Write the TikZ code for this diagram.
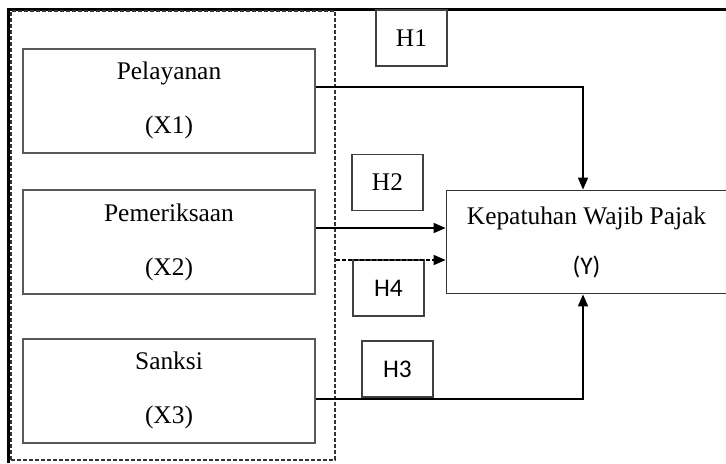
\documentclass[tikz,border=0pt]{standalone}
\usepackage{fontspec}
\setmainfont{Liberation Serif}
\setsansfont{Carlito}
\usepackage{tikz}
\usetikzlibrary{arrows.meta,positioning,calc}
\tikzset{
  varbox/.style={rectangle, draw=black!65, line width=1pt, align=center,
                 minimum width=146pt, minimum height=52pt, inner sep=0pt,
                 font=\fontsize{12.7}{15}\selectfont},
  hipbox/.style={rectangle, draw=black!75, line width=0.9pt, align=center,
                 minimum width=35.5pt, minimum height=28pt, inner sep=0pt,
                 font=\fontsize{12.7}{15}\selectfont},
  arr/.style={-{Triangle[length=6pt,width=5pt]}, line width=0.8pt, draw=black},
  fine dash/.style={dash pattern=on 2pt off 1pt},
}
\begin{document}
\begin{tikzpicture}[x=0.5pt,y=-0.5pt]
  \useasboundingbox (0,0) rectangle (726,463);
  % frame
  \draw[line width=1.5pt] (8,463) -- (8,9) -- (726,9);
  \node[rectangle, draw=black!80, fine dash, line width=0.8pt, minimum width=162pt,
        minimum height=224.5pt, inner sep=0pt] (grp) at (173,235.5) {};
  % variables
  \node[varbox] (pel) at (169,100.5) {Pelayanan\\[12pt](X1)};
  \node[varbox] (pem) at (169,242) {Pemeriksaan\\[12pt](X2)};
  \node[varbox] (san) at (169,390.5) {Sanksi\\[12pt](X3)};
  \node[rectangle, draw=black!80, line width=0.9pt, align=center, inner sep=0pt,
        minimum width=140pt, minimum height=51.5pt,
        font=\fontsize{12.7}{15}\selectfont] (kep) at (586.5,242)
    {Kepatuhan Wajib Pajak\\[10pt]{\sffamily (Y)}};
  % hipotesis
  \node[hipbox] (h1) at (411.5,38) {H1};
  \node[hipbox] (h2) at (387.5,182.5) {H2};
  \node[hipbox, font=\sffamily\fontsize{12.7}{15}\selectfont] (h4) at (388.5,288) {H4};
  \node[hipbox, font=\sffamily\fontsize{12.7}{15}\selectfont] (h3) at (397.5,369) {H3};
  % arrows
  \coordinate (h4in) at ([yshift=-9pt]kep.west);
  \draw[arr] ([yshift=6.75pt]pel.east) -| ([xshift=-1.75pt]kep.north);
  \draw[arr] ([yshift=7pt]pem.east) -- ([yshift=7pt]kep.west);
  \draw[arr, fine dash] (h4in -| grp.east) -- (h4in);
  \draw[arr] ([yshift=-4.25pt]san.east) -| ([xshift=-1.75pt]kep.south);
\end{tikzpicture}
\end{document}
